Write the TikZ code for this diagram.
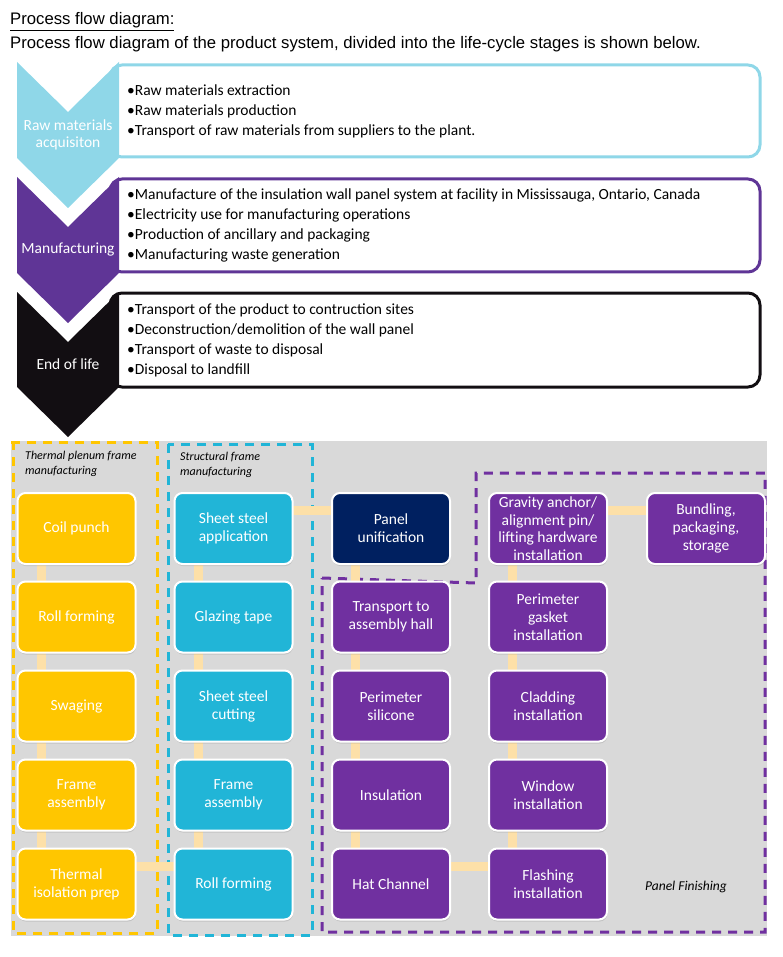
\documentclass[tikz,border=0pt]{standalone}
\usepackage{fontspec}
\setmainfont{Carlito}
\newfontfamily\headfont{Liberation Sans}
\usetikzlibrary{
  positioning,
  shadows
}
\definecolor{stagecyan}{RGB}{143,215,232}
\definecolor{stagepurple}{RGB}{95,53,150}
\definecolor{stageblack}{RGB}{18,14,18}
\definecolor{gold}{RGB}{255,198,0}
\definecolor{sky}{RGB}{33,181,215}
\definecolor{navy}{RGB}{0,32,96}
\definecolor{violet}{RGB}{112,48,160}
\definecolor{linkorange}{RGB}{253,224,168}
\definecolor{panelgray}{RGB}{217,217,217}
\pgfdeclarelayer{back}
\pgfdeclarelayer{mid}
\pgfsetlayers{back,mid,main}

\begin{document}
\begin{tikzpicture}[
  x=1pt, y=-1pt,
  every node/.style={inner sep=0pt},
  head/.style={anchor=base west, font=\headfont\fontsize{16.7}{20}\selectfont},
  stagelabel/.style={text=white, align=center, font=\fontsize{15.5}{17}\selectfont},
  stagelist/.style={anchor=west, align=left, font=\fontsize{15.5}{20}\selectfont},
  stagebox/.style={rounded corners=12pt, line width=3pt, fill=white},
  procbox/.style={draw=white, line width=2pt, rounded corners=8pt,
                  minimum width=118pt, minimum height=71pt, align=center,
                  text=white, font=\fontsize{15.5}{18}\selectfont,
                  drop shadow={opacity=0.25, shadow xshift=0.5pt, shadow yshift=-2pt}},
  link/.style={line width=9pt, draw=linkorange},
  zone/.style={line width=3pt, dash pattern=on 9pt off 7pt},
  zonelabel/.style={anchor=north west, align=left, font=\fontsize{12}{15}\selectfont\itshape}
]
\useasboundingbox (0,0) rectangle (783,957);

% Heading
\node[head] (title) at (10,25) {\underline{Process flow diagram:}};
\node[head] (subtitle) at (10,49)
  {Process flow diagram of the product system, divided into the life-cycle stages is shown below.};

% Life-cycle stages
\draw[stagebox, draw=stagecyan] (110,65) rectangle (760,157);
\draw[stagebox, draw=stagepurple] (110,179) rectangle (760,272);
\draw[stagebox, draw=stageblack] (110,293) rectangle (760,387);

\fill[stagecyan] (17,62) -- (68,112) -- (119,62) -- (119,158) -- (68,208) -- (17,158) -- cycle;
\fill[stagepurple] (17,177) -- (68,227) -- (119,177) -- (119,273) -- (68,323) -- (17,273) -- cycle;
\fill[stageblack] (17,292) -- (68,342) -- (119,292) -- (119,387) -- (68,437) -- (17,387) -- cycle;

\node[stagelabel] (raw) at (68,135) {Raw materials\\acquisiton};
\node[stagelabel] (manu) at (68,250) {Manufacturing};
\node[stagelabel] (eol) at (68,364) {End of life};

\node[stagelist] (rawlist) at (127,111.5)
  {•Raw materials extraction\\
   •Raw materials production\\
   •Transport of raw materials from suppliers to the plant.};
\node[stagelist] (manulist) at (127,225.5)
  {•Manufacture of the insulation wall panel system at facility in Mississauga, Ontario, Canada\\
   •Electricity use for manufacturing operations\\
   •Production of ancillary and packaging\\
   •Manufacturing waste generation};
\node[stagelist] (eollist) at (127,340.5)
  {•Transport of the product to contruction sites\\
   •Deconstruction/demolition of the wall panel\\
   •Transport of waste to disposal\\
   •Disposal to landfill};

% Process flow zones
\begin{pgfonlayer}{back}
\fill[panelgray] (11,441) rectangle (767,936);
\draw[zone, draw=gold] (11,442) -- (157,442) -- (157,933) -- (13,933) -- (13,442);
\draw[zone, draw=sky] (168,444) rectangle (312,935);
\draw[zone, draw=violet] (322,578) -- (476,583) -- (476,473) -- (765,473)
  -- (765,932) -- (322,932) -- cycle;
\end{pgfonlayer}

\node[zonelabel] (thermlabel) at (25,451) {Thermal plenum frame\\manufacturing};
\node[zonelabel] (structlabel) at (180,452) {Structural frame\\manufacturing};
\node[font=\fontsize{13.5}{16}\selectfont\itshape] (finishlabel) at (686,887) {Panel Finishing};

% Thermal plenum frame
\node[procbox, fill=gold] (coil) at (76.5,528.5) {Coil punch};
\node[procbox, fill=gold] (rollA) at (76.5,617) {Roll forming};
\node[procbox, fill=gold] (swage) at (76.5,706) {Swaging};
\node[procbox, fill=gold] (frameA) at (76.5,795) {Frame\\assembly};
\node[procbox, fill=gold] (isoprep) at (76.5,884) {Thermal\\isolation prep};

% Structural frame
\node[procbox, fill=sky] (sheetapp) at (233.5,528.5) {Sheet steel\\application};
\node[procbox, fill=sky] (tape) at (233.5,617) {Glazing tape};
\node[procbox, fill=sky] (cut) at (233.5,706) {Sheet steel\\cutting};
\node[procbox, fill=sky] (frameB) at (233.5,795) {Frame\\assembly};
\node[procbox, fill=sky] (rollB) at (233.5,884) {Roll forming};

% Panel
\node[procbox, fill=navy] (unify) at (391,528.5) {Panel\\unification};
\node[procbox, fill=violet] (transport) at (391,617) {Transport to\\assembly hall};
\node[procbox, fill=violet] (silicone) at (391,706) {Perimeter\\silicone};
\node[procbox, fill=violet] (insul) at (391,795) {Insulation};
\node[procbox, fill=violet] (hat) at (391,884) {Hat Channel};

\node[procbox, fill=violet, font=\fontsize{15.5}{17.5}\selectfont] (anchor) at (548,528.5)
  {Gravity anchor/\\alignment pin/\\lifting hardware\\installation};
\node[procbox, fill=violet] (gasket) at (548,617) {Perimeter\\gasket\\installation};
\node[procbox, fill=violet] (clad) at (548,706) {Cladding\\installation};
\node[procbox, fill=violet] (window) at (548,795) {Window\\installation};
\node[procbox, fill=violet] (flash) at (548,884) {Flashing\\installation};

\node[procbox, fill=violet] (bundle) at (706,528.5) {Bundling,\\packaging,\\storage};

% Links
\begin{pgfonlayer}{mid}
\draw[link] ([xshift=-35pt]coil.center) -- ([xshift=-35pt]rollA.center);
\draw[link] ([xshift=-35pt]rollA.center) -- ([xshift=-35pt]swage.center);
\draw[link] ([xshift=-35pt]swage.center) -- ([xshift=-35pt]frameA.center);
\draw[link] ([xshift=-35pt]frameA.center) -- ([xshift=-35pt]isoprep.center);
\draw[link] ([xshift=-35pt]sheetapp.center) -- ([xshift=-35pt]tape.center);
\draw[link] ([xshift=-35pt]tape.center) -- ([xshift=-35pt]cut.center);
\draw[link] ([xshift=-35pt]cut.center) -- ([xshift=-35pt]frameB.center);
\draw[link] ([xshift=-35pt]frameB.center) -- ([xshift=-35pt]rollB.center);
\draw[link] ([xshift=-36pt]unify.center) -- ([xshift=-36pt]transport.center);
\draw[link] ([xshift=-36pt]transport.center) -- ([xshift=-36pt]silicone.center);
\draw[link] ([xshift=-36pt]silicone.center) -- ([xshift=-36pt]insul.center);
\draw[link] ([xshift=-36pt]insul.center) -- ([xshift=-36pt]hat.center);
\draw[link] ([xshift=-36pt]anchor.center) -- ([xshift=-36pt]gasket.center);
\draw[link] ([xshift=-36pt]gasket.center) -- ([xshift=-36pt]clad.center);
\draw[link] ([xshift=-36pt]clad.center) -- ([xshift=-36pt]window.center);
\draw[link] ([xshift=-36pt]window.center) -- ([xshift=-36pt]flash.center);
\draw[link] ([yshift=18pt]sheetapp.center) -- ([yshift=18pt]unify.center);
\draw[link] ([yshift=18pt]anchor.center) -- ([yshift=18pt]bundle.center);
\draw[link] ([yshift=18pt]isoprep.center) -- ([yshift=18pt]rollB.center);
\draw[link] ([yshift=18pt]hat.center) -- ([yshift=18pt]flash.center);
\end{pgfonlayer}

\end{tikzpicture}
\end{document}
